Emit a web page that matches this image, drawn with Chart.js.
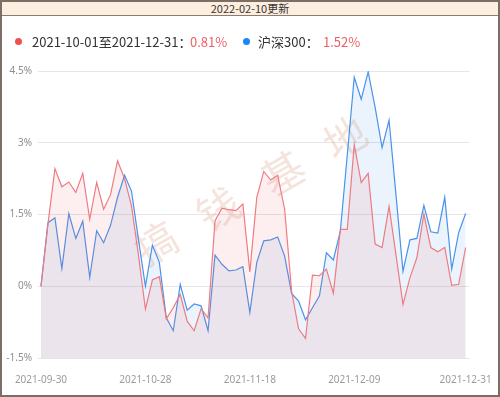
<!DOCTYPE html>
<html lang="zh">
<head>
<meta charset="UTF-8">
<script src="https://cdn.jsdelivr.net/npm/chart.js"></script>
<style>
    body { margin: 0; background: #fff; font-family: "Noto Sans CJK SC", "Noto Sans", sans-serif; }
    .box { position: absolute; left: 0; top: 0; width: 500px; height: 397px; }
    .frame { position: absolute; left: 0; top: 0; width: 500px; height: 397px; box-sizing: border-box; border: 2px solid #7a6e67; pointer-events: none; }
    .topo { position: absolute; left: 0; top: 0; width: 500px; height: 15px; background: #fcefe0; border-bottom: 1px solid #8c7b6f;
            font-size: 11px; line-height: 16px; text-align: center; color: #3a3330; }
    .leg { position: absolute; top: 33px; font-size: 13px; line-height: 18px; color: #333; white-space: nowrap; }
    .dot { position: absolute; top: 38px; width: 7px; height: 7px; border-radius: 50%; }
    .pct { color: #ec6168; }
</style>
<title>收益走势</title>
</head>
<body>
<div class="box"><canvas id="grafico" width="500" height="397"></canvas></div>
<div class="topo">2022-02-10更新</div>
<div class="dot" style="left: 15px; background: #f0504f;"></div>
<div class="leg" style="left: 32px;">2021-10-01至2021-12-31：</div>
<div class="leg pct" style="left: 190px;">0.81%</div>
<div class="dot" style="left: 243px; background: #1c87f2;"></div>
<div class="leg" style="left: 258px;">沪深300：</div>
<div class="leg pct" style="left: 323px;">1.52%</div>
<div class="frame"></div>
<script>
    // datas de pregão
    var datas = [
        '2021-09-30',
        '2021-10-08', '2021-10-11', '2021-10-12', '2021-10-13', '2021-10-14', '2021-10-15',
        '2021-10-18', '2021-10-19', '2021-10-20', '2021-10-21', '2021-10-22',
        '2021-10-25', '2021-10-26', '2021-10-27', '2021-10-28', '2021-10-29',
        '2021-11-01', '2021-11-02', '2021-11-03', '2021-11-04', '2021-11-05',
        '2021-11-08', '2021-11-09', '2021-11-10', '2021-11-11', '2021-11-12',
        '2021-11-15', '2021-11-16', '2021-11-17', '2021-11-18', '2021-11-19',
        '2021-11-22', '2021-11-23', '2021-11-24', '2021-11-25', '2021-11-26',
        '2021-11-29', '2021-11-30',
        '2021-12-01', '2021-12-02', '2021-12-03',
        '2021-12-06', '2021-12-07', '2021-12-08', '2021-12-09', '2021-12-10',
        '2021-12-13', '2021-12-14', '2021-12-15', '2021-12-16', '2021-12-17',
        '2021-12-20', '2021-12-21', '2021-12-22', '2021-12-23', '2021-12-24',
        '2021-12-27', '2021-12-28', '2021-12-29', '2021-12-30', '2021-12-31'
    ];
    var datasEixo = ['2021-09-30', '2021-10-28', '2021-11-18', '2021-12-09', '2021-12-31'];
    var ticksY = [-1.5, 0, 1.5, 3, 4.5];

    var fundo = [0, 1.30, 2.46, 2.08, 2.18, 1.96, 2.36, 1.40, 2.17, 1.61,
        1.92, 2.62, 2.25, 1.68, 0.65, -0.48, 0.13, 0.20, -0.68, -0.45,
        -0.17, -0.73, -0.93, -0.47, -0.66, 1.37, 1.63, 1.60, 1.58, 1.72,
        0.30, 1.86, 2.40, 2.22, 2.32, 1.61, -0.10, -0.89, -1.09, 0.23,
        0.22, 0.36, -0.15, 1.19, 1.19, 2.96, 2.17, 2.36, 0.88, 0.81,
        1.67, 0.65, -0.38, 0.18, 0.60, 1.51, 0.81, 0.72, 0.81, 0.02,
        0.04, 0.81];
    var hs300 = [0, 1.33, 1.43, 0.37, 1.52, 1.00, 1.36, 0.18, 1.16, 0.91,
        1.28, 1.86, 2.32, 1.99, 0.98, 0.00, 0.86, 0.50, -0.66, -0.93,
        0.04, -0.50, -0.37, -0.41, -0.93, 0.65, 0.46, 0.32, 0.34, 0.41,
        -0.55, 0.50, 0.95, 0.97, 1.03, 0.63, -0.15, -0.31, -0.70, -0.45,
        -0.20, 0.70, 0.55, 1.15, 2.75, 4.37, 3.91, 4.48, 3.74, 2.90,
        3.47, 1.90, 0.31, 0.97, 1.00, 1.69, 1.14, 1.11, 1.86, 0.36,
        1.12, 1.52];

    function pontos(valores) {
        var lista = [];
        for (var i = 0; i < valores.length; i++) {
            lista.push({ x: i, y: valores[i] });
        }
        return lista;
    }

    // marca d'água atrás das linhas
    var marcaDagua = {
        id: 'marcaDagua',
        beforeDatasetsDraw(chart) {
            var c = chart.ctx;
            var letras = ['搞', '钱', '基', '地'];
            var pos = [[156, 243], [218, 209], [283, 173], [345, 138]];
            c.save();
            c.fillStyle = 'rgba(230, 185, 165, 0.38)';
            c.font = '42px "Noto Sans CJK SC"';
            c.textAlign = 'center';
            c.textBaseline = 'middle';
            for (var i = 0; i < letras.length; i++) {
                c.save();
                c.translate(pos[i][0], pos[i][1]);
                c.rotate(-Math.PI / 6);
                c.fillText(letras[i], 0, 0);
                c.restore();
            }
            c.restore();
        }
    };

    const ctx = document.getElementById('grafico');
    var grafico = new Chart(ctx, {
        type: 'line',
        data: {
            datasets: [{
                label: '2021-10-01至2021-12-31',
                data: pontos(fundo),
                borderColor: '#ef7b82',
                backgroundColor: 'rgba(240, 100, 110, 0.11)',
                borderWidth: 1.2,
                fill: 'start',
                pointRadius: 0,
                tension: 0
            }, {
                label: '沪深300',
                data: pontos(hs300),
                borderColor: '#4a92ea',
                backgroundColor: 'rgba(60, 145, 240, 0.1)',
                borderWidth: 1.2,
                fill: 'start',
                pointRadius: 0,
                tension: 0
            }]
        },
        options: {
            responsive: false,
            animation: false,
            layout: { padding: { left: 0, right: 29, top: 71, bottom: 0 } },
            plugins: {
                legend: { display: false },
                tooltip: { enabled: false }
            },
            scales: {
                x: {
                    type: 'linear',
                    min: -0.43,
                    max: 61.57,
                    afterFit: function (s) { s.height = 39; },
                    afterBuildTicks: function (s) {
                        s.ticks = datasEixo.map(d => ({ value: datas.indexOf(d) }));
                    },
                    grid: { display: false },
                    border: { display: false },
                    ticks: {
                        autoSkip: false,
                        maxRotation: 0,
                        padding: 8,
                        color: '#9a9a9a',
                        font: { size: 10, family: 'Noto Sans' },
                        callback: function (v) { return datas[v]; }
                    }
                },
                y: {
                    min: -1.5,
                    max: 4.5,
                    afterFit: function (s) { s.width = 38; },
                    afterBuildTicks: function (s) {
                        s.ticks = ticksY.map(v => ({ value: v }));
                    },
                    grid: { color: '#e6e6e6', lineWidth: 1, drawTicks: false },
                    border: { display: false },
                    ticks: {
                        padding: 6,
                        color: '#8f8f8f',
                        font: { size: 10, family: 'Noto Sans' },
                        callback: function (v) { return v + '%'; }
                    }
                }
            }
        },
        plugins: [marcaDagua]
    });
</script>
</body>
</html>
